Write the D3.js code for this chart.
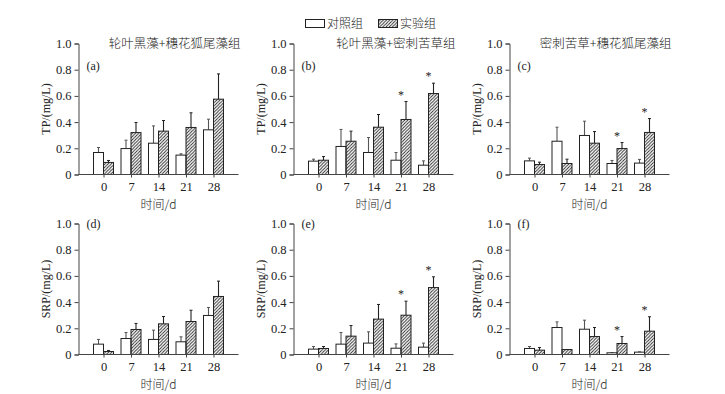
<!DOCTYPE html>
<html lang="en">
<head>
<meta charset="utf-8" />
<title>TP / SRP</title>
<script src="https://cdn.jsdelivr.net/npm/d3@7"></script>
<style>
  body { margin: 0; background: #fff; }
  svg text { fill: #222; }
  .num { font-family: "Liberation Serif", "DejaVu Serif", serif; font-size: 12px; }
  .zh { font-family: "Noto Sans CJK SC", sans-serif; font-size: 12px; font-weight: 300; }
  .axis path, .axis line { stroke: #444; }
</style>
</head>
<body>
<div id="chart"></div>
<script>
var days = ["0", "7", "14", "21", "28"];
var legendNames = ["对照组", "实验组"];

// TP panels
var aCtrl = [0.168, 0.198, 0.239, 0.148, 0.341];
var aCtrlErr = [0.038, 0.064, 0.132, 0.010, 0.081];
var aExp = [0.092, 0.320, 0.331, 0.359, 0.575];
var aExpErr = [0.015, 0.077, 0.081, 0.112, 0.193];

var bCtrl = [0.102, 0.214, 0.168, 0.109, 0.071];
var bCtrlErr = [0.015, 0.130, 0.114, 0.059, 0.033];
var bExp = [0.109, 0.254, 0.361, 0.420, 0.618];
var bExpErr = [0.028, 0.077, 0.097, 0.137, 0.079];

var cCtrl = [0.104, 0.254, 0.298, 0.084, 0.087];
var cCtrlErr = [0.021, 0.107, 0.109, 0.023, 0.028];
var cExp = [0.076, 0.084, 0.239, 0.198, 0.321];
var cExpErr = [0.018, 0.033, 0.089, 0.046, 0.106];

// SRP panels
var dCtrl = [0.079, 0.122, 0.115, 0.097, 0.298];
var dCtrlErr = [0.036, 0.046, 0.071, 0.038, 0.061];
var dExp = [0.023, 0.191, 0.234, 0.252, 0.443];
var dExpErr = [0.008, 0.046, 0.056, 0.086, 0.117];

var eCtrl = [0.041, 0.079, 0.087, 0.048, 0.056];
var eCtrlErr = [0.020, 0.089, 0.086, 0.033, 0.031];
var eExp = [0.046, 0.140, 0.270, 0.300, 0.511];
var eExpErr = [0.015, 0.081, 0.112, 0.107, 0.082];

var fCtrl = [0.046, 0.206, 0.193, 0.013, 0.018];
var fCtrlErr = [0.015, 0.043, 0.069, 0.002, 0.002];
var fExp = [0.033, 0.038, 0.137, 0.084, 0.178];
var fExpErr = [0.020, 0.000, 0.069, 0.053, 0.110];

var yTicks = [0, 0.2, 0.4, 0.6, 0.8, 1.0];

var panels = [
  {letter: "(a)", title: "轮叶黑藻+穗花狐尾藻组", ylab: "TP/(mg/L)", ctrl: aCtrl, ctrlErr: aCtrlErr, exp: aExp, expErr: aExpErr, stars: [], col: 0, row: 0},
  {letter: "(b)", title: "轮叶黑藻+密刺苦草组", ylab: "TP/(mg/L)", ctrl: bCtrl, ctrlErr: bCtrlErr, exp: bExp, expErr: bExpErr, stars: ["21", "28"], col: 1, row: 0},
  {letter: "(c)", title: "密刺苦草+穗花狐尾藻组", ylab: "TP/(mg/L)", ctrl: cCtrl, ctrlErr: cCtrlErr, exp: cExp, expErr: cExpErr, stars: ["21", "28"], col: 2, row: 0},
  {letter: "(d)", title: "", ylab: "SRP/(mg/L)", ctrl: dCtrl, ctrlErr: dCtrlErr, exp: dExp, expErr: dExpErr, stars: [], col: 0, row: 1},
  {letter: "(e)", title: "", ylab: "SRP/(mg/L)", ctrl: eCtrl, ctrlErr: eCtrlErr, exp: eExp, expErr: eExpErr, stars: ["21", "28"], col: 1, row: 1},
  {letter: "(f)", title: "", ylab: "SRP/(mg/L)", ctrl: fCtrl, ctrlErr: fCtrlErr, exp: fExp, expErr: fExpErr, stars: ["21", "28"], col: 2, row: 1}
];

var width = 725, height = 394;
var colX = [78.5, 293.5, 509.5];
var rowY = [43.5, 223.5];
var pw = 160, ph = 131, barW = 10;

var svg = d3.select("#chart").append("svg")
    .attr("width", width)
    .attr("height", height);

var defs = svg.append("defs");
defs.append("pattern")
    .attr("id", "hatch")
    .attr("patternUnits", "userSpaceOnUse")
    .attr("width", 3.2).attr("height", 3.2)
  .append("path")
    .attr("d", "M-1,1 l2,-2 M0,3.2 l3.2,-3.2 M2.2,4.2 l2,-2")
    .attr("stroke", "#222")
    .attr("stroke-width", 0.9);

var fmt = function(d) { return d === 0 ? "0" : d3.format(".1f")(d); };

panels.forEach(function(p) {
  var x0 = colX[p.col], y0 = rowY[p.row];
  var g = svg.append("g");

  var x = d3.scalePoint().domain(days).range([x0 + 25, x0 + pw - 25]);
  var y = d3.scaleLinear().domain([0, 1]).range([y0 + ph, y0]);

  var rows = days.map(function(d, i) {
    return {day: d, ctrl: p.ctrl[i], ctrlErr: p.ctrlErr[i], exp: p.exp[i], expErr: p.expErr[i]};
  });

  var series = [
    {key: "ctrl", err: "ctrlErr", off: -barW, fill: "#fff", errColor: "#555"},
    {key: "exp", err: "expErr", off: 0, fill: "url(#hatch)", errColor: "#222"}
  ];

  series.forEach(function(s) {
    // error bars (upward only)
    g.selectAll(null).data(rows).enter().append("line")
        .attr("x1", function(d) { return x(d.day) + s.off + barW / 2; })
        .attr("x2", function(d) { return x(d.day) + s.off + barW / 2; })
        .attr("y1", function(d) { return y(d[s.key]); })
        .attr("y2", function(d) { return y(d[s.key] + d[s.err]); })
        .attr("stroke", s.errColor)
        .attr("stroke-width", 1.1);
    g.selectAll(null).data(rows.filter(function(d) { return d[s.err] > 0; })).enter().append("line")
        .attr("x1", function(d) { return x(d.day) + s.off + barW / 2 - 1.5; })
        .attr("x2", function(d) { return x(d.day) + s.off + barW / 2 + 1.5; })
        .attr("y1", function(d) { return y(d[s.key] + d[s.err]); })
        .attr("y2", function(d) { return y(d[s.key] + d[s.err]); })
        .attr("stroke", s.errColor)
        .attr("stroke-width", 1);

    g.selectAll(null).data(rows).enter().append("rect")
        .attr("x", function(d) { return x(d.day) + s.off; })
        .attr("y", function(d) { return y(d[s.key]); })
        .attr("width", barW)
        .attr("height", function(d) { return y(0) - y(d[s.key]); })
        .attr("fill", s.fill)
        .attr("stroke", "#222")
        .attr("stroke-width", 1);
  });

  // significance stars
  g.selectAll(null).data(rows.filter(function(d) { return p.stars.indexOf(d.day) >= 0; })).enter().append("text")
      .attr("class", "num")
      .attr("x", function(d) { return x(d.day); })
      .attr("y", function(d) { return y(d.exp + d.expErr) - 3; })
      .attr("text-anchor", "middle")
      .text("*");

  // axes
  var xa = g.append("g")
      .attr("class", "axis num")
      .attr("transform", "translate(0," + (y0 + ph) + ")")
      .call(d3.axisBottom(x).tickSize(3).tickPadding(5));
  xa.select(".domain").attr("d", "M" + x0 + ",0H" + (x0 + pw));
  xa.selectAll("text").attr("font-size", 12.5).attr("font-family", "Liberation Serif, serif");

  var ya = g.append("g")
      .attr("class", "axis num")
      .attr("transform", "translate(" + x0 + ",0)")
      .call(d3.axisLeft(y).tickValues(yTicks).tickFormat(fmt).tickSize(4).tickPadding(3));
  ya.selectAll("text").attr("font-size", 12.5).attr("font-family", "Liberation Serif, serif");

  // labels
  g.append("text")
      .attr("class", "num")
      .attr("transform", "translate(" + (x0 - 33) + "," + (y0 + ph / 2) + ") rotate(-90)")
      .attr("text-anchor", "middle")
      .attr("dy", "0.35em")
      .text(p.ylab);

  g.append("text")
      .attr("class", "zh")
      .attr("x", x0 + pw / 2)
      .attr("y", y0 + ph + 34)
      .attr("text-anchor", "middle")
      .text("时间/d");

  g.append("text")
      .attr("class", "num")
      .attr("x", x0 + 8)
      .attr("y", p.row === 0 ? y0 + 22 : y0)
      .attr("dy", "0.35em")
      .text(p.letter);

  if (p.title) {
    g.append("text")
        .attr("class", "zh")
        .style("font-size", "12.5px")
        .attr("x", x0 + pw + 2)
        .attr("y", y0)
        .attr("dy", "0.35em")
        .attr("text-anchor", "end")
        .text(p.title);
  }
});

// legend
var legend = svg.append("g").attr("transform", "translate(305,19)");
var lg = legend.selectAll("g").data(legendNames).enter().append("g")
    .attr("transform", function(d, i) { return "translate(" + (i * 73) + ",0)"; });
lg.append("rect")
    .attr("x", 0.5).attr("y", 0.5)
    .attr("width", 19).attr("height", 8)
    .attr("fill", function(d, i) { return i === 0 ? "#fff" : "url(#hatch)"; })
    .attr("stroke", "#222");
lg.append("text")
    .attr("class", "zh")
    .attr("x", 22)
    .attr("y", 4.5)
    .attr("dy", "0.35em")
    .text(function(d) { return d; });
</script>
</body>
</html>
